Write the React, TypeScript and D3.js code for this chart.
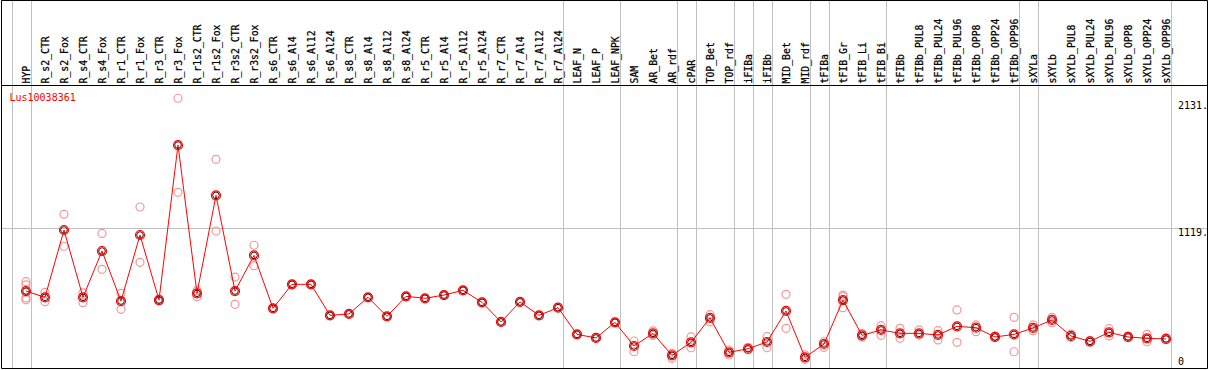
import React from "react";
import * as d3 from "d3";

const categories = [
  "HYP", "R_s2_CTR", "R_s2_Fox", "R_s4_CTR", "R_s4_Fox", "R_r1_CTR", "R_r1_Fox", "R_r3_CTR", "R_r3_Fox",
  "R_r1s2_CTR", "R_r1s2_Fox", "R_r3s2_CTR", "R_r3s2_Fox", "R_s6_CTR", "R_s6_Al4", "R_s6_Al12", "R_s6_Al24",
  "R_s8_CTR", "R_s8_Al4", "R_s8_Al12", "R_s8_Al24", "R_r5_CTR", "R_r5_Al4", "R_r5_Al12", "R_r5_Al24",
  "R_r7_CTR", "R_r7_Al4", "R_r7_Al12", "R_r7_Al24", "LEAF_N", "LEAF_P", "LEAF_NPK", "SAM", "AR_Bet", "AR_rdf",
  "cPAR", "TOP_Bet", "TOP_rdf", "iFIBa", "iFIBb", "MID_Bet", "MID_rdf", "tFIBa", "tFIB_Gr", "tFIB_Li", "tFIB_Bi",
  "tFIBb", "tFIBb_PUL8", "tFIBb_PUL24", "tFIBb_PUL96", "tFIBb_OPP8", "tFIBb_OPP24", "tFIBb_OPP96",
  "sXYLa", "sXYLb", "sXYLb_PUL8", "sXYLb_PUL24", "sXYLb_PUL96", "sXYLb_OPP8", "sXYLb_OPP24", "sXYLb_OPP96",
];

const means = [
  615, 565, 1103, 565, 935, 535, 1063, 543, 1782,
  597, 1380, 615, 900, 477, 669, 669, 421,
  432, 565, 413, 573, 557, 583, 621, 525,
  368, 528, 421, 482, 269, 240, 365, 176, 277, 101,
  205, 400, 125, 154, 208, 456, 85, 192, 543, 261, 304,
  277, 277, 264, 333, 322, 248, 269,
  320, 384, 256, 213, 285, 248, 237, 232,
];

const replicates: number[][] = [
  [690, 665, 560, 545], [605, 530], [1228, 973], [600, 522], [1076, 789], [597, 469], [1287, 845], [550, 538], [2156, 1404],
  [618, 570], [1668, 1095], [727, 509], [981, 818], [477], [669], [669], [421],
  [432], [565], [413], [573], [557], [583], [621], [525],
  [368], [528], [421], [482], [269], [240], [365], [216, 130], [296, 260], [117, 77],
  [248, 162], [426, 368], [144, 104], [165, 145], [250, 162], [589, 317], [106, 69], [210, 165], [583, 570, 482], [277, 248], [338, 261],
  [317, 237], [304, 262], [298, 224], [464, 205], [344, 290], [255, 242], [405, 130],
  [344, 298], [405, 362], [270, 245], [220, 205], [314, 256], [255, 242], [269, 210], [240, 225],
];

// categories after which a separator line is drawn
const groupEnds = [
  "HYP", "R_r7_Al24", "LEAF_NPK", "AR_rdf", "cPAR", "TOP_rdf", "iFIBa", "iFIBb", "MID_rdf",
  "tFIBa", "tFIB_Bi", "tFIBb_OPP96", "sXYLa", "sXYLb_OPP96",
];

const yTickValues = [2131, 1119, 0];
const gridValues = [1119];
const geneName = "Lus10038361";

const W = 1209;
const H = 370;
const FONT = "'DejaVu Sans Mono', monospace";

export default function App() {
  const x = d3.scalePoint<string>().domain(categories).range([26, 1166]);
  const y = d3.scaleLinear().domain([0, 1119]).range([368, 228]);
  const step = x.step();

  const line = d3
    .line<number>()
    .x((_, i) => x(categories[i]) as number)
    .y((d) => y(d));

  const top = 0.5;
  const headerBottom = 85.5;
  const bottom = 368.5;
  const left = 1.5;
  const right = 1207.5;

  return (
    <div style={{ position: "fixed", left: 0, top: 0 }}>
      <svg width={W} height={H} style={{ display: "block", background: "#fff" }}>
        <rect x={0} y={0} width={W} height={H} fill="#fff" />
        {/* vertical separators */}
        <line
          x1={Math.round((x(categories[0]) as number) - step + 4.5) + 0.5}
          x2={Math.round((x(categories[0]) as number) - step + 4.5) + 0.5}
          y1={top}
          y2={bottom}
          stroke="#c0c0c0"
        />
        {groupEnds.map((c) => {
          const gx = Math.round((x(c) as number) + 4.5) + 0.5;
          return <line key={c} x1={gx} x2={gx} y1={top} y2={bottom} stroke="#c0c0c0" />;
        })}
        {/* horizontal grid */}
        {gridValues.map((v) => (
          <line key={v} x1={left} x2={right} y1={Math.round(y(v)) + 0.5} y2={Math.round(y(v)) + 0.5} stroke="#c0c0c0" />
        ))}
        {/* frame */}
        <line x1={left} x2={right} y1={top} y2={top} stroke="#000" />
        <line x1={left} x2={right} y1={headerBottom} y2={headerBottom} stroke="#000" />
        <line x1={left} x2={right} y1={bottom} y2={bottom} stroke="#000" />
        <line x1={left} x2={left} y1={top} y2={bottom} stroke="#000" />
        <line x1={right} x2={right} y1={top} y2={bottom} stroke="#000" />
        {/* category labels */}
        {categories.map((c) => (
          <text
            key={c}
            transform={`translate(${(x(c) as number) + 4},83.5) rotate(-90)`}
            fontFamily={FONT}
            fontSize={9.8}
            fill="#000"
            stroke="#000"
            strokeWidth={0.25}
          >
            {c}
          </text>
        ))}
        {/* y labels */}
        {yTickValues.map((v) => {
          const yy = v === 0 ? 365 : y(v) + 8;
          return (
            <text key={v} x={1178} y={yy} fontFamily={FONT} fontSize={10} fill="#000">
              {v === 0 ? "0" : `${v}.`}
            </text>
          );
        })}
        <text x={9.5} y={101} fontFamily={FONT} fontSize={10} fill="#ff0000">
          {geneName}
        </text>
        {/* replicates */}
        {replicates.map((reps, i) =>
          reps.map((r, j) => (
            <circle
              key={`${i}-${j}`}
              cx={x(categories[i]) as number}
              cy={y(r)}
              r={4}
              fill="none"
              stroke="#f09898"
              strokeWidth={1.2}
            />
          ))
        )}
        {/* mean line */}
        <path d={line(means) || ""} fill="none" stroke="#ff0000" strokeWidth={1} />
        {means.map((m, i) => (
          <g key={i}>
            <circle cx={x(categories[i]) as number} cy={y(m)} r={4.5} fill="none" stroke="#ff0000" strokeWidth={1.2} />
            <circle cx={x(categories[i]) as number} cy={y(m)} r={3.3} fill="none" stroke="#600000" strokeWidth={1} />
          </g>
        ))}
      </svg>
    </div>
  );
}
